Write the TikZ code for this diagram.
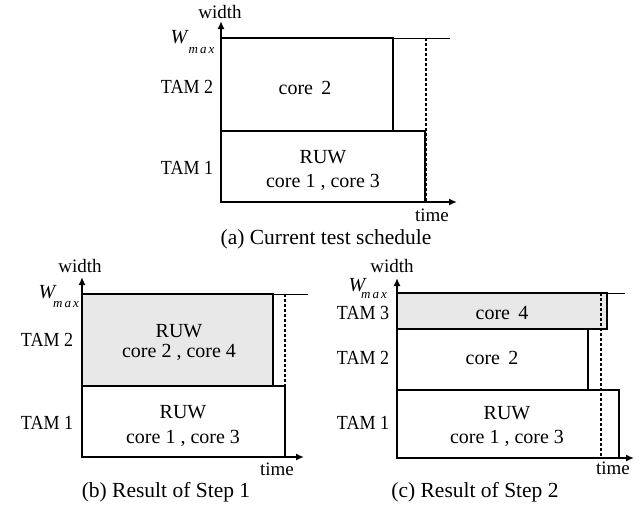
\documentclass[tikz,border=0pt]{standalone}
\usepackage{fontspec}
\setmainfont{Liberation Serif}
\newfontfamily\narrowfont[FakeStretch=0.9]{Liberation Serif}
\usetikzlibrary{arrows.meta}
\definecolor{boxgray}{RGB}{232,232,232}
\tikzset{
  sched/.style={draw=black, line width=2.8pt},
  shaded/.style={fill=boxgray},
  axisline/.style={draw=black, line width=2.8pt, -{Latex[length=8pt,width=7pt]}},
  limitline/.style={draw=black, line width=0.8pt},
  finishline/.style={draw=black, line width=1.8pt, dash pattern=on 3pt off 2pt},
  lbl/.style={inner sep=0pt, font=\fontsize{20}{24}\selectfont},
  tamlbl/.style={inner sep=0pt, font=\narrowfont\fontsize{20}{24}\selectfont},
  axlbl/.style={inner sep=0pt, font=\fontsize{19}{23}\selectfont},
  wlbl/.style={inner sep=0pt, anchor=base, font=\itshape\fontsize{20}{24}\selectfont},
  sublbl/.style={inner sep=0pt, anchor=base, font=\itshape\fontsize{13}{15}\selectfont},
  caplbl/.style={inner sep=0pt, font=\fontsize{21.5}{26}\selectfont},
}
\begin{document}
\begin{tikzpicture}[x=1pt, y=-1pt]
\useasboundingbox (0,0) rectangle (640,506);

% ---------------- (a) current test schedule ----------------
\coordinate (aO) at (221,202);
\coordinate (aY) at (221,21);
\coordinate (aX) at (457,202);
\draw[sched] (221,38) rectangle (393,131);
\draw[sched] (221,131) rectangle (425,202);
\coordinate (aLimA) at (393,38);
\coordinate (aLimB) at (450,38);
\draw[limitline] (aLimA) -- (aLimB);
\coordinate (aFinA) at (426,38);
\coordinate (aFinB) at (426,202);
\draw[finishline] (aFinA) -- (aFinB);
\draw[axisline] (aO) -- (aY);
\draw[axisline] (aO) -- (aX);
\node[axlbl] (aWidth) at (220,12) {width};
\node[wlbl] (aW) at (179,43) {W};
\node[sublbl] (aMax) at (201.5,53) {m\,a\,x};
\node[tamlbl] (aTam2) at (187,87) {TAM 2};
\node[tamlbl] (aTam1) at (187,168) {TAM 1};
\node[lbl] (aCore2) at (305,88) {core\, 2};
\node[lbl] (aRuw) at (323,157) {RUW};
\node[lbl] (aCores) at (323,182) {core 1 , core 3};
\node[axlbl] (aTime) at (432,215) {time};
\node[caplbl] (aCap) at (326,239) {(a) Current test schedule};

% ---------------- (b) result of step 1 ----------------
\coordinate (bO) at (82,457);
\coordinate (bY) at (82,277);
\coordinate (bX) at (304,457);
\draw[sched, shaded] (82,294) rectangle (273,386);
\draw[sched] (82,386) rectangle (285,457);
\coordinate (bLimA) at (273,294);
\coordinate (bLimB) at (308,294);
\draw[limitline] (bLimA) -- (bLimB);
\coordinate (bFinA) at (285,294);
\coordinate (bFinB) at (285,386);
\draw[finishline] (bFinA) -- (bFinB);
\draw[axisline] (bO) -- (bY);
\draw[axisline] (bO) -- (bX);
\node[axlbl] (bWidth) at (80,266) {width};
\node[wlbl] (bW) at (47,298) {W};
\node[sublbl] (bMax) at (66,307) {m\,a\,x};
\node[tamlbl] (bTam2) at (47,340) {TAM 2};
\node[tamlbl] (bTam1) at (47,423) {TAM 1};
\node[lbl] (bRuwU) at (179,331) {RUW};
\node[lbl] (bCoresU) at (179,352) {core 2 , core 4};
\node[lbl] (bRuwL) at (183,412) {RUW};
\node[lbl] (bCoresL) at (183,438) {core 1 , core 3};
\node[axlbl] (bTime) at (277,469) {time};
\node[caplbl] (bCap) at (166,492) {(b) Result of Step 1};

% ---------------- (c) result of step 2 ----------------
\coordinate (cO) at (397,458);
\coordinate (cY) at (397,278);
\coordinate (cX) at (634,458);
\draw[sched, shaded] (397,293) rectangle (607,329);
\draw[sched] (397,329) rectangle (588,390);
\draw[sched] (397,390) rectangle (619,458);
\coordinate (cLimA) at (607,293);
\coordinate (cLimB) at (625,293);
\draw[limitline] (cLimA) -- (cLimB);
\coordinate (cFinA) at (601,293);
\coordinate (cFinB) at (601,458);
\draw[finishline] (cFinA) -- (cFinB);
\draw[axisline] (cO) -- (cY);
\draw[axisline] (cO) -- (cX);
\node[axlbl] (cWidth) at (392,266) {width};
\node[wlbl] (cW) at (357,291) {W};
\node[sublbl] (cMax) at (374,298) {m\,a\,x};
\node[tamlbl] (cTam3) at (363,313) {TAM 3};
\node[tamlbl] (cTam2) at (363,358) {TAM 2};
\node[tamlbl] (cTam1) at (363,423) {TAM 1};
\node[lbl] (cCore4) at (502,313) {core\, 4};
\node[lbl] (cCore2) at (492,358) {core\, 2};
\node[lbl] (cRuw) at (507,413) {RUW};
\node[lbl] (cCores) at (507,438) {core 1 , core 3};
\node[axlbl] (cTime) at (613,468) {time};
\node[caplbl] (cCap) at (475,492) {(c) Result of Step 2};
\end{tikzpicture}
\end{document}
